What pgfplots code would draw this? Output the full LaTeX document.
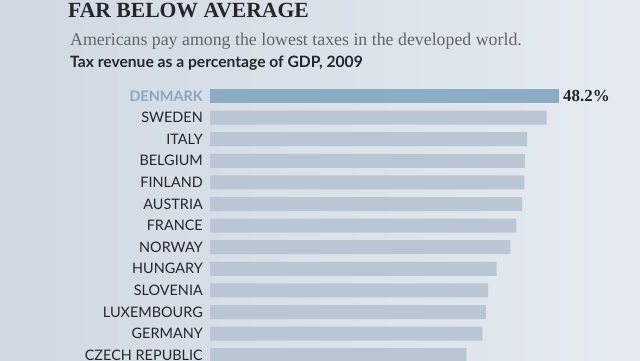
\documentclass[border=0pt]{standalone}
\usepackage{pgfplots}
\pgfplotsset{compat=1.18}
\usepackage{fontspec}
\setmainfont{Liberation Serif}
\newfontfamily\lato{Lato}
\definecolor{bgL}{RGB}{208,216,226}
\definecolor{bgR}{RGB}{230,235,242}
\definecolor{barc}{RGB}{186,198,211}
\definecolor{dkbar}{RGB}{140,171,196}
\definecolor{dklab}{RGB}{136,168,191}
\definecolor{txt}{RGB}{38,38,42}
\definecolor{subc}{RGB}{98,100,106}

\pgfplotstableread{
idx val
1 46.5
2 43.8
3 43.5
4 43.4
5 43.1
6 42.3
7 41.5
8 39.6
9 38.4
10 38.1
11 37.6
12 35.4
}\others
\pgfplotstableread{
idx val
0 48.2
}\denmark

\begin{document}
\begin{tikzpicture}[x=1bp,y=1bp]
\path[use as bounding box, clip] (0,0) rectangle (640,-360);
\shade[left color=bgL, right color=bgR] (0,0) rectangle (640,-360);
\node[anchor=base west, inner sep=0pt, text=txt, font=\fontsize{21.7}{21.7}\selectfont\bfseries] at (68,-17.5) {FAR BELOW AVERAGE};
\node[anchor=base west, inner sep=0pt, text=subc, font=\fontsize{17.9}{17.9}\selectfont] at (70,-45) {Americans pay among the lowest taxes in the developed world.};
\node[anchor=base west, inner sep=0pt, text=txt, font=\lato\fontsize{15.7}{15.7}\selectfont\bfseries] at (70,-67) {Tax revenue as a percentage of GDP, 2009};
\begin{axis}[
  at={(210bp,-96bp)}, anchor=origin,
  scale only axis, width=349bp, height=280.8bp,
  xmin=0, xmax=48.2, ymin=-0.5, ymax=12.5, y dir=reverse,
  xbar, bar width=14bp, bar shift=0pt,
  axis line style={draw=none},
  xtick=\empty,
  ytick={0,...,12},
  yticklabels={{\color{dklab}\bfseries DENMARK},SWEDEN,ITALY,BELGIUM,FINLAND,AUSTRIA,FRANCE,NORWAY,HUNGARY,SLOVENIA,LUXEMBOURG,GERMANY,CZECH REPUBLIC},
  major tick length=0pt,
  ytick style={draw=none},
  yticklabel style={font=\lato\fontsize{14.5}{14.5}\selectfont, text=txt, anchor=east, inner sep=0pt, xshift=-7bp},
  clip=false,
]
\addplot[fill=barc, draw=none] table[x=val, y=idx] {\others};
\addplot[fill=dkbar, draw=none,
  nodes near coords={\pgfmathprintnumber[fixed,precision=1,assume math mode=true]{\pgfplotspointmeta}\%},
  every node near coord/.style={font=\fontsize{17}{17}\selectfont\bfseries, text=txt, anchor=west, inner sep=0pt, xshift=4bp}
  ] table[x=val, y=idx] {\denmark};
\end{axis}
\end{tikzpicture}
\end{document}
